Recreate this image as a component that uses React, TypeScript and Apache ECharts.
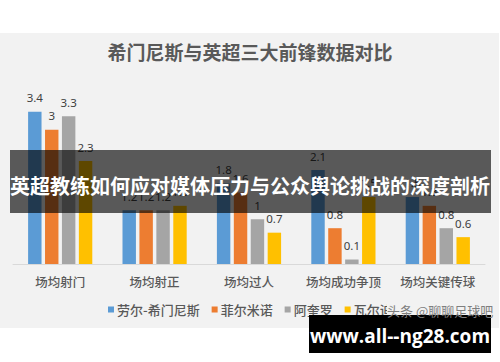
import React, { useEffect, useRef } from "react";
import * as echarts from "echarts";

const categories = ["场均射门", "场均射正", "场均过人", "场均成功争顶", "场均关键传球"];
const seriesNames = ["劳尔-希门尼斯", "菲尔米诺", "阿奎罗", "瓦尔迪"];
const jimenez = [3.4, 1.2, 1.8, 2.1, 1.5];
const firmino = [3, 1.2, 1.6, 0.8, 1.3];
const aguero = [3.3, 1.2, 1, 0.1, 0.8];
const vardy = [2.3, 1.3, 0.7, 1.5, 0.6];
const colors = ["#5b9bd5", "#ed7d31", "#a5a5a5", "#ffc000"];
const titleText = "希门尼斯与英超三大前锋数据对比";
const bannerText = "英超教练如何应对媒体压力与公众舆论挑战的深度剖析";
const watermarkText = "www.all--ng28.com";
const sourceText = "头条 @聊聊足球吧";

export default function App() {
  const ref = useRef<HTMLDivElement>(null);
  useEffect(() => {
    if (!ref.current) return;
    const chart = echarts.init(ref.current, null, { renderer: "svg" });
    const values = [jimenez, firmino, aguero, vardy];
    const cjk = '"Noto Sans CJK SC", "Noto Sans", sans-serif';
    chart.setOption({
      animation: false,
      backgroundColor: "#ffffff",
      color: colors,
      title: {
        text: titleText,
        left: "center",
        top: 42,
        padding: 0,
        textStyle: { fontFamily: cjk, fontSize: 19, fontWeight: "bold", color: "#595959" },
      },
      grid: { left: 13, right: 15, top: 85, bottom: 98, containLabel: false },
      legend: {
        left: 108,
        top: 303,
        padding: 0,
        itemWidth: 6,
        itemHeight: 6,
        itemGap: 12,
        icon: "rect",
        textStyle: {
          fontFamily: cjk,
          fontSize: 13,
          fontWeight: 500,
          color: "#595959",
          padding: [0, 0, 0, -2],
        },
        data: seriesNames,
      },
      xAxis: {
        type: "category",
        data: categories,
        axisLine: { lineStyle: { color: "#d9d9d9" } },
        axisTick: { show: false },
        axisLabel: {
          interval: 0,
          fontFamily: cjk,
          fontSize: 12.5,
          fontWeight: 500,
          color: "#595959",
          margin: 11,
        },
      },
      yAxis: {
        type: "value",
        min: 0,
        max: 4,
        show: false,
        splitLine: { show: false },
      },
      series: seriesNames.map((name, i) => ({
        name,
        type: "bar",
        data: values[i],
        barGap: "26%",
        barCategoryGap: "32%",
        label: {
          show: true,
          position: "top",
          distance: 8,
          fontFamily: '"Noto Sans", sans-serif',
          fontSize: 11.5,
          color: "#404040",
        },
      })),
      graphic: [
        {
          type: "rect",
          z: -10,
          silent: true,
          shape: { x: 0, y: 33, width: 499, height: 295 },
          style: { fill: "#f2f2f2" },
        },
        {
          type: "rect",
          z: 100,
          shape: { x: 387, y: 302, width: 104, height: 15 },
          style: { fill: "#f2f2f2" },
        },
        {
          type: "text",
          z: 101,
          x: 387,
          y: 310,
          style: {
            text: sourceText,
            fontFamily: cjk,
            fontSize: 13,
            fill: "#7f7f7f",
            verticalAlign: "middle",
          },
        },
        {
          type: "rect",
          z: 100,
          shape: { x: 10, y: 150, width: 481, height: 63 },
          style: { fill: "rgba(0,0,0,0.63)" },
        },
        {
          type: "text",
          z: 101,
          x: 250,
          y: 185,
          style: {
            text: bannerText,
            fontFamily: cjk,
            fontSize: 20,
            fontWeight: "bold",
            fill: "#ffffff",
            align: "center",
            verticalAlign: "middle",
          },
        },
        {
          type: "rect",
          z: 100,
          shape: { x: 309, y: 315, width: 182, height: 38 },
          style: { fill: "#000000" },
        },
        {
          type: "text",
          z: 101,
          x: 400,
          y: 336,
          style: {
            text: watermarkText,
            fontFamily: '"Open Sans", "DejaVu Sans", sans-serif',
            fontSize: 19,
            fontWeight: "bold",
            fill: "#ffffff",
            align: "center",
            verticalAlign: "middle",
          },
        },
      ],
    });
    return () => chart.dispose();
  }, []);
  return (
    <div
      ref={ref}
      style={{ position: "fixed", left: 0, top: 0, width: 500, height: 362 }}
    />
  );
}
